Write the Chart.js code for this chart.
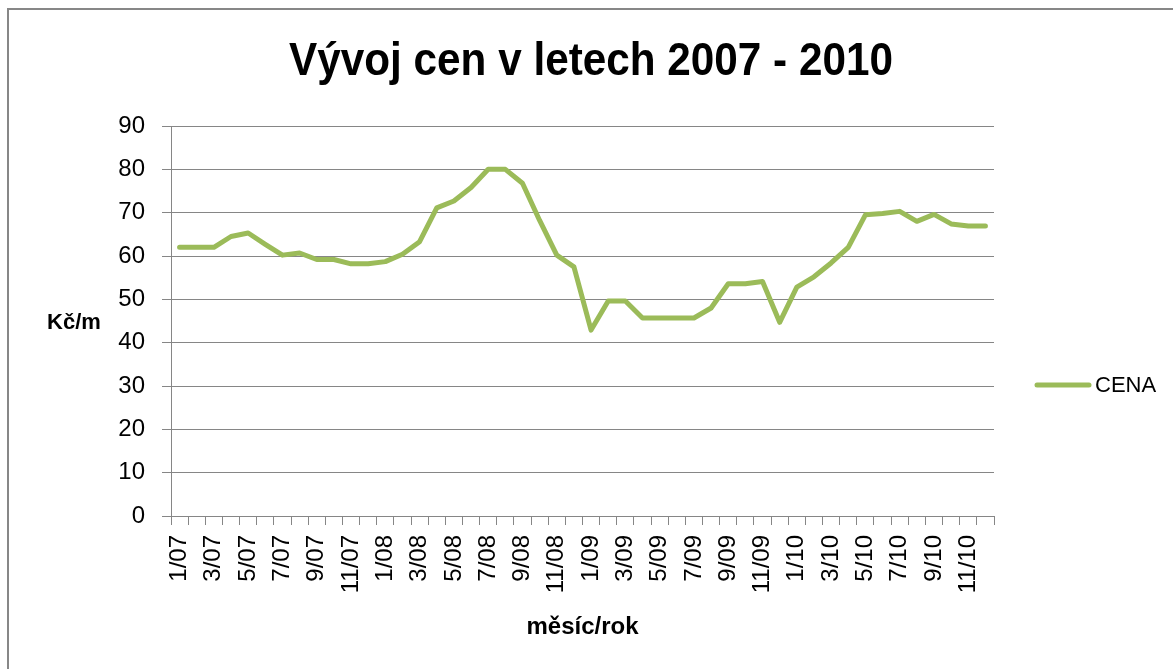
<!DOCTYPE html>
<html>
<head>
<meta charset="utf-8">
<style>
  html, body { margin: 0; padding: 0; background: #ffffff; }
  #wrap { width: 1173px; height: 669px; }
</style>
<script src="https://cdn.jsdelivr.net/npm/chart.js@4.4.1/dist/chart.umd.min.js"></script>
</head>
<body>
<div id="wrap"><canvas id="c" width="1173" height="669"></canvas></div>
<script>
const chartTitle = 'Vývoj cen v letech 2007 - 2010';
const xTitle = 'měsíc/rok';
const yTitle = 'Kč/m';
const seriesName = 'CENA';
const months = [
  '1/07','2/07','3/07','4/07','5/07','6/07','7/07','8/07','9/07','10/07','11/07','12/07',
  '1/08','2/08','3/08','4/08','5/08','6/08','7/08','8/08','9/08','10/08','11/08','12/08',
  '1/09','2/09','3/09','4/09','5/09','6/09','7/09','8/09','9/09','10/09','11/09','12/09',
  '1/10','2/10','3/10','4/10','5/10','6/10','7/10','8/10','9/10','10/10','11/10','12/10'
];
const cena = [
  62, 62, 62, 64.5, 65.3, 62.7, 60.2, 60.7, 59.2, 59.2, 58.2, 58.2,
  58.7, 60.4, 63.3, 71.1, 72.7, 75.8, 80, 80, 76.8, 68.2, 60.2, 57.5,
  42.9, 49.6, 49.6, 45.7, 45.7, 45.7, 45.7, 48, 53.6, 53.6, 54.1, 44.7,
  52.8, 55.2, 58.4, 62, 69.5, 69.8, 70.3, 68, 69.6, 67.4, 66.9, 66.9
];
const yMin = 0, yMax = 90, yStep = 10;

const lineColor = '#9BBB59';
const gridColor = '#868686';
const textColor = '#000000';
const fam = "'Liberation Sans', Arial, sans-serif";

const decor = {
  id: 'decor',
  beforeDraw(chart) {
    const ctx = chart.ctx;
    ctx.save();
    ctx.fillStyle = '#ffffff';
    ctx.fillRect(0, 0, chart.width, chart.height);
    ctx.strokeStyle = '#878787';
    ctx.lineWidth = 2;
    ctx.strokeRect(8, 9, 1200, 700);
    ctx.restore();
  },
  afterDraw(chart) {
    const ctx = chart.ctx;
    ctx.save();
    ctx.font = 'bold 46px ' + fam;
    ctx.fillStyle = textColor;
    ctx.textAlign = 'center';
    ctx.textBaseline = 'middle';
    const w = ctx.measureText(chartTitle).width;
    const sx = Math.min(1, 604 / w);
    ctx.save();
    ctx.translate(591, 62);
    ctx.scale(sx, 1);
    ctx.fillText(chartTitle, 0, 0);
    ctx.restore();
    ctx.font = 'bold 22px ' + fam;
    ctx.textAlign = 'center';
    ctx.fillText(yTitle, 74, 323);
    const ds = chart.data.datasets[0];
    ctx.strokeStyle = ds.borderColor;
    ctx.lineWidth = 5;
    ctx.lineCap = 'round';
    ctx.beginPath();
    ctx.moveTo(1037, 385);
    ctx.lineTo(1089, 385);
    ctx.stroke();
    ctx.font = '22px ' + fam;
    ctx.textAlign = 'left';
    ctx.fillStyle = textColor;
    ctx.fillText(ds.label, 1095, 386);
    ctx.restore();
  }
};

new Chart(document.getElementById('c'), {
  type: 'line',
  data: {
    labels: months,
    datasets: [{
      label: seriesName,
      data: cena,
      borderColor: lineColor,
      backgroundColor: lineColor,
      borderWidth: 5,
      pointRadius: 0,
      tension: 0,
      borderJoinStyle: 'round',
      borderCapStyle: 'round',
      fill: false
    }]
  },
  options: {
    responsive: false,
    animation: false,
    devicePixelRatio: 1,
    layout: { padding: { top: 126, right: 179, left: 0, bottom: 0 } },
    plugins: {
      legend: { display: false },
      title: { display: false },
      tooltip: { enabled: false }
    },
    scales: {
      x: {
        type: 'category',
        offset: true,
        grid: { offset: true, drawOnChartArea: false, drawTicks: true, tickLength: 9, color: gridColor, lineWidth: 1 },
        border: { display: true, color: gridColor, width: 1 },
        ticks: {
          autoSkip: false,
          minRotation: 90,
          maxRotation: 90,
          padding: 10,
          color: textColor,
          font: { family: fam, size: 24 },
          callback: function (v, i) { return i % 2 === 0 ? this.getLabelForValue(v) : ''; }
        },
        title: {
          display: true,
          text: xTitle,
          color: textColor,
          font: { family: fam, size: 24, weight: 'bold' },
          padding: { top: 0, bottom: 27 }
        },
        afterFit(s) { s.height = 153; }
      },
      y: {
        min: yMin,
        max: yMax,
        grid: { color: gridColor, lineWidth: 1, drawTicks: true, tickLength: 9 },
        border: { display: true, color: gridColor, width: 1 },
        ticks: {
          stepSize: yStep,
          padding: 17,
          color: textColor,
          font: { family: fam, size: 24 }
        },
        afterFit(s) { s.width = 171; }
      }
    }
  },
  plugins: [decor]
});
</script>
</body>
</html>
